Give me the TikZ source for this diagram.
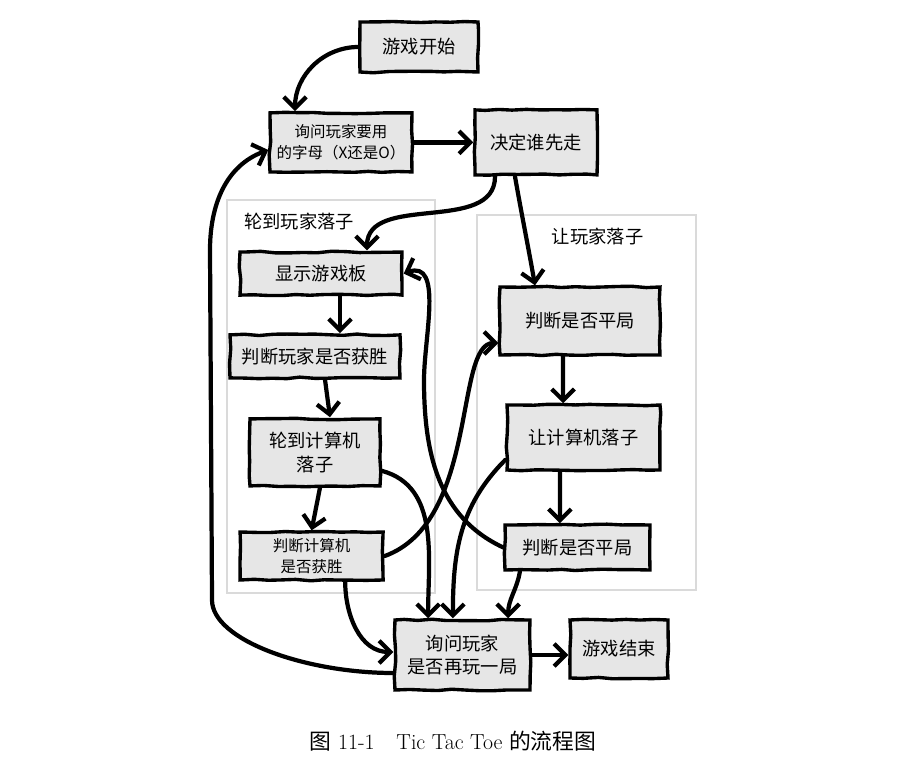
\documentclass[tikz,border=0pt]{standalone}
\usepackage{fontspec}
\newfontfamily\cjk{Noto Sans CJK SC}
\usetikzlibrary{arrows.meta,decorations.pathmorphing}
\definecolor{boxgray}{HTML}{E6E6E6}
\definecolor{groupgray}{HTML}{DADADA}

\begin{document}
\begin{tikzpicture}
    \tikzset{
        block/.style={draw, line width=2.4pt, fill=boxgray, align=center, inner sep=2pt,
            font=\cjk\fontsize{13}{17}\selectfont,
            decorate, decoration={random steps, segment length=10pt, amplitude=0.6pt}},
        small/.style={font=\cjk\fontsize{11}{15}\selectfont},
        arc/.style={-{Straight Barb[length=8pt, width=16pt]}, line width=3pt, line cap=round, line join=round},
        group/.style={draw=groupgray, line width=1.5pt},
        title/.style={font=\cjk\fontsize{13}{16}\selectfont}
    }
    \useasboundingbox (0,0) rectangle (22.575,19.3);

    % the two groups
    \draw[group] (5.675,4.475) rectangle (10.875,14.3);
    \draw[group] (11.925,4.55) rectangle (17.4,13.925);
    \draw node[title] (plabel) at (7.475,13.75) {轮到玩家落子};
    \draw node[title] (clabel) at (14.94,13.375) {让玩家落子};

    \draw node[block, minimum width=2.95cm, minimum height=1.25cm] (start) at (10.475,18.125) {游戏开始};
    \draw node[block, small, minimum width=3.55cm, minimum height=1.475cm] (ask) at (8.525,15.74) {询问玩家要用\\的字母（X还是O）};
    \draw node[block, minimum width=3.05cm, minimum height=1.625cm] (first) at (13.4,15.74) {决定谁先走};
    \draw node[block, minimum width=4.05cm, minimum height=1.075cm] (show) at (8.025,12.46) {显示游戏板};
    \draw node[block, minimum width=4.25cm, minimum height=1.075cm] (pwin) at (7.875,10.39) {判断玩家是否获胜};
    \draw node[block, minimum width=3.25cm, minimum height=1.675cm] (cturn) at (7.875,7.99) {轮到计算机\\落子};
    \draw node[block, small, minimum width=3.575cm, minimum height=1.2cm] (cwin) at (7.79,5.4) {判断计算机\\是否获胜};
    \draw node[block, minimum width=4cm, minimum height=1.7cm] (ptie) at (14.5,11.275) {判断是否平局};
    \draw node[block, minimum width=3.825cm, minimum height=1.625cm] (cmove) at (14.5875,8.3625) {让计算机落子};
    \draw node[block, minimum width=3.625cm, minimum height=1.125cm] (ctie) at (14.4375,5.6125) {判断是否平局};
    \draw node[block, minimum width=3.375cm, minimum height=1.75cm] (again) at (11.5625,2.925) {询问玩家\\是否再玩一局};
    \draw node[block, minimum width=2.45cm, minimum height=1.45cm] (end) at (15.475,3.075) {游戏结束};

    \draw[arc] (start.west) to[out=180, in=90] ([xshift=-1.15cm]ask.north);
    \draw[arc] (ask) -- (first);
    \draw[arc] ([xshift=-1.025cm]first.south) to[out=-90, in=90] ([xshift=1.15cm]show.north);
    \draw[arc] ([xshift=-0.525cm]first.south) to[out=-80, in=100] ([xshift=-1.125cm]ptie.north);
    \draw[arc] ([xshift=0.475cm]show.south) -- ([xshift=0.625cm]pwin.north);
    \draw[arc] ([xshift=0.25cm]pwin.south) -- ([xshift=0.375cm]cturn.north);
    \draw[arc] ([xshift=0.125cm]cturn.south) -- (cwin.north);
    \draw[arc] ([yshift=-0.46cm]cturn.east) to[out=-15, in=90] ([xshift=-0.86cm]again.north);
    \draw[arc] (cwin.east) to[out=20, in=180, out distance=2.5cm, in distance=1.1cm] ([yshift=-0.55cm]ptie.west);
    \draw[arc] ([xshift=0.84cm]cwin.south) to[out=-90, in=180] ([yshift=0.075cm]again.west);
    \draw[arc] ([xshift=-0.425cm]ptie.south) -- ([xshift=-0.51cm]cmove.north);
    \draw[arc] ([xshift=-0.59cm]cmove.south) -- ([xshift=-0.44cm]ctie.north);
    \draw[arc] ([yshift=-0.56cm]cmove.west) to[out=225, in=90] ([xshift=-0.24cm]again.north);
    \draw[arc] (ctie.west) to[out=155, in=-90] (10.6,9.8) to[out=90, in=20] (show.east);
    \draw[arc] ([xshift=-1.44cm]ctie.south) to[out=-100, in=90] ([xshift=1.14cm]again.north);
    \draw[arc] ([yshift=-0.45cm]again.west) to[out=180, in=-90, out distance=2.2cm, in distance=1cm] (5.3,4.3)
        -- (5.25,13.05) to[out=90, in=200] ([yshift=-0.19cm]ask.west);
    \draw[arc] (again.east) -- (again.east -| end.west);

    \draw node[font=\fontsize{15.5}{18}\selectfont] (caption) at (11.325,0.775) {{\cjk 图} 11-1\quad Tic Tac Toe {\cjk 的流程图}};
\end{tikzpicture}
\end{document}
